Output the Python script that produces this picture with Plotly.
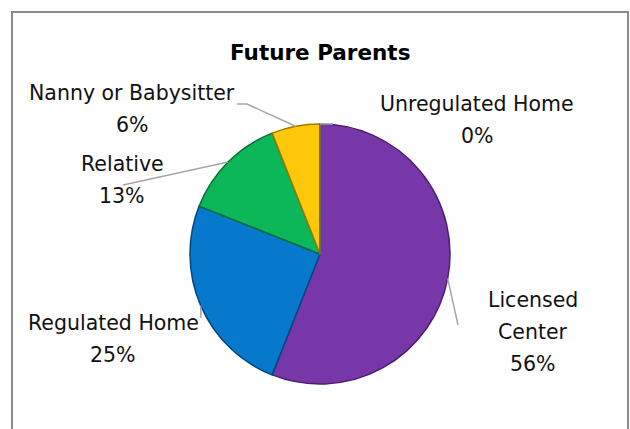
import math
import plotly.graph_objects as go

W, H = 630, 429

labels = ["Licensed Center", "Regulated Home", "Relative", "Nanny or Babysitter", "Unregulated Home"]
values = [56, 25, 13, 6, 0]
pct_text = ["56%", "25%", "13%", "6%", "0%"]
colors = ["#7837A8", "#0679CC", "#0BB759", "#FFC80A", "#A5A5A5"]
edge_colors = ["#4B1F6E", "#03487D", "#06703A", "#9E7A00", "#666666"]
title = "Future Parents"

FONT = "DejaVu Sans"
FS = 20.5

# pie geometry (pixels)
cx, cy, R = 320, 254, 130

def px2paper(x, y):
    return x / W, 1 - y / H

# label layout: (label lines, pct line) positions in px -- style only
label_layout = {
    "Licensed Center": dict(lines=["Licensed", "Center", "56%"], x=533, y0=300, end=(458, 325)),
    "Regulated Home": dict(lines=["Regulated Home", "25%"], x=113, y0=323, end=(201, 318)),
    "Relative": dict(lines=["Relative", "13%"], x=122, y0=164, end=(123, 185)),
    "Nanny or Babysitter": dict(lines=["Nanny or Babysitter", "6%"], x=132, y0=93, end=(237, 104), knee=(247, 104)),
    "Unregulated Home": dict(lines=["Unregulated Home", "0%"], x=477, y0=104, end=(333, 124)),
}
LINE_GAP = 32

fig = go.Figure()
fig.add_trace(go.Pie(
    labels=labels, values=values, sort=False, direction="clockwise", rotation=0,
    marker=dict(colors=colors, line=dict(color=edge_colors, width=1.5)),
    textinfo="none", hoverinfo="label+percent", showlegend=False,
    domain=dict(x=[(cx - R) / W, (cx + R) / W], y=[1 - (cy + R) / H, 1 - (cy - R) / H]),
))

annotations = []
shapes = []
total = sum(values)
cum = 0
for lab, v, pt in zip(labels, values, pct_text):
    mid = (cum + v / 2) / total * 2 * math.pi
    cum += v
    ex, ey = cx + R * math.sin(mid), cy - R * math.cos(mid)
    lay = label_layout[lab]
    lines = list(lay["lines"])
    lines[-1] = pt
    for i, t in enumerate(lines):
        xx, yy = px2paper(lay["x"], lay["y0"] + i * LINE_GAP)
        annotations.append(dict(x=xx, y=yy, xref="paper", yref="paper", text=t, showarrow=False,
                                xanchor="center", yanchor="middle",
                                font=dict(family=FONT, size=FS, color="#111111")))
    pts = [(ex, ey)]
    if "knee" in lay:
        pts.append(lay["knee"])
    pts.append(lay["end"])
    path = "M " + " L ".join(f"{px2paper(a, b)[0]},{px2paper(a, b)[1]}" for a, b in pts)
    shapes.append(dict(type="path", path=path, xref="paper", yref="paper",
                       line=dict(color="#A6A6A6", width=1.5)))

# chart border
shapes.append(dict(type="rect", xref="paper", yref="paper", x0=12 / W, x1=628 / W, y0=-0.1, y1=1 - 12 / H,
                   line=dict(color="#8C8C8C", width=2), layer="below"))

tx, ty = px2paper(320, 52)
annotations.append(dict(x=tx, y=ty, xref="paper", yref="paper", text="<b>" + title + "</b>", showarrow=False,
                        xanchor="center", yanchor="middle", font=dict(family=FONT, size=21.5, color="#000000")))

fig.update_layout(width=W, height=H, margin=dict(l=0, r=0, t=0, b=0),
                  paper_bgcolor="white", plot_bgcolor="white",
                  annotations=annotations, shapes=shapes)
fig.write_html("out.html")
